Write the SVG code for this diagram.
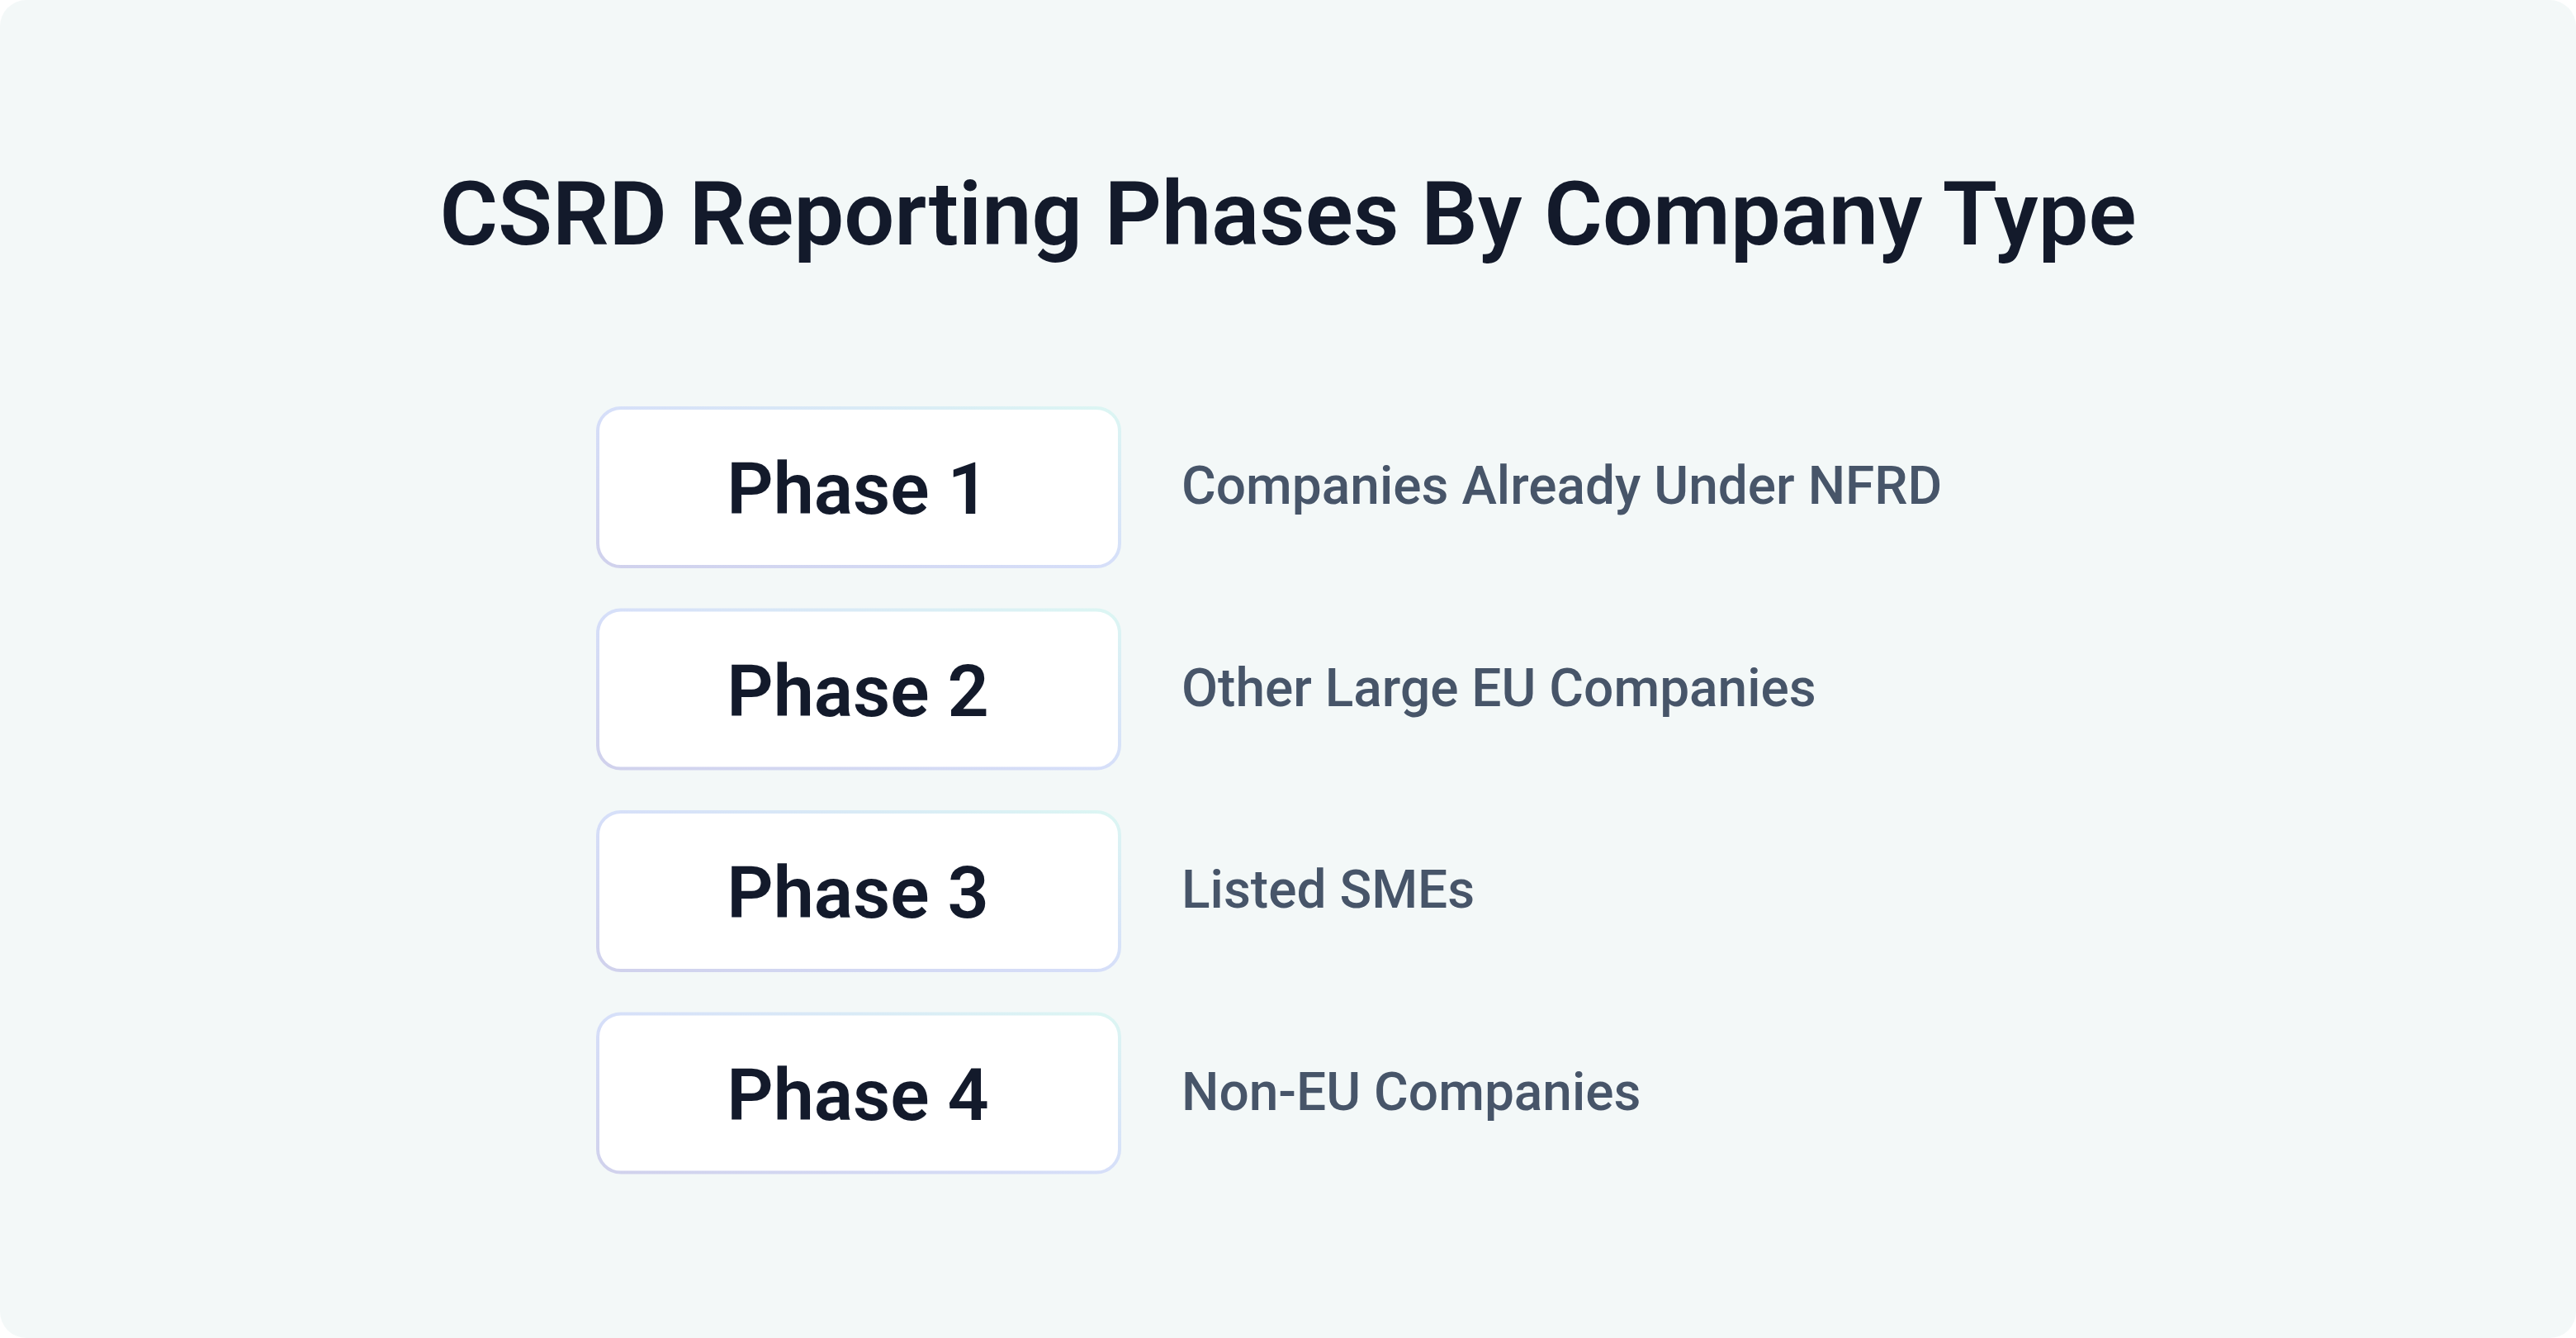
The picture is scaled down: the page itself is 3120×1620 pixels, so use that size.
<svg xmlns="http://www.w3.org/2000/svg" width="3120" height="1620" viewBox="0 0 3120 1620">
  <defs>
    <linearGradient id="bd" x1="1" y1="0" x2="0" y2="1">
      <stop offset="0" stop-color="#dcf6f3"/>
      <stop offset="0.5" stop-color="#d6dff9"/>
      <stop offset="1" stop-color="#d0d1ec"/>
    </linearGradient>
  </defs>
  <style>
    .box { fill: #ffffff; stroke: url(#bd); stroke-width: 4; }
    .phase { font-family: Roboto, "Liberation Sans", sans-serif; font-size: 88px; font-weight: 600; fill: #131a2b; text-anchor: middle; }
    .desc { font-family: Roboto, "Liberation Sans", sans-serif; font-size: 64px; font-weight: 500; fill: #475569; }
    .title { font-family: Roboto, "Liberation Sans", sans-serif; font-size: 108px; font-weight: 600; fill: #131a2b; text-anchor: middle; }
  </style>
  <rect x="0" y="0" width="3120" height="1620" fill="#ffffff"/>
  <rect x="0" y="0" width="3120" height="1620" rx="32" ry="32" fill="#f3f8f8"/>
  <text class="title" x="1560" y="296">CSRD Reporting Phases By Company Type</text>
  <g id="connectors"></g>
  <g id="phase1">
    <rect class="box" x="724" y="494" width="632" height="192" rx="28" ry="28"/>
    <text class="phase" x="1039" y="622">Phase 1</text>
    <text class="desc" x="1431" y="610">Companies Already Under NFRD</text>
  </g>
  <g id="phase2">
    <rect class="box" x="724" y="738.5" width="632" height="192" rx="28" ry="28"/>
    <text class="phase" x="1039" y="866.5">Phase 2</text>
    <text class="desc" x="1431" y="854.5">Other Large EU Companies</text>
  </g>
  <g id="phase3">
    <rect class="box" x="724" y="983" width="632" height="192" rx="28" ry="28"/>
    <text class="phase" x="1039" y="1111">Phase 3</text>
    <text class="desc" x="1431" y="1099">Listed SMEs</text>
  </g>
  <g id="phase4">
    <rect class="box" x="724" y="1227.5" width="632" height="192" rx="28" ry="28"/>
    <text class="phase" x="1039" y="1355.5">Phase 4</text>
    <text class="desc" x="1431" y="1343.5">Non-EU Companies</text>
  </g>
</svg>
